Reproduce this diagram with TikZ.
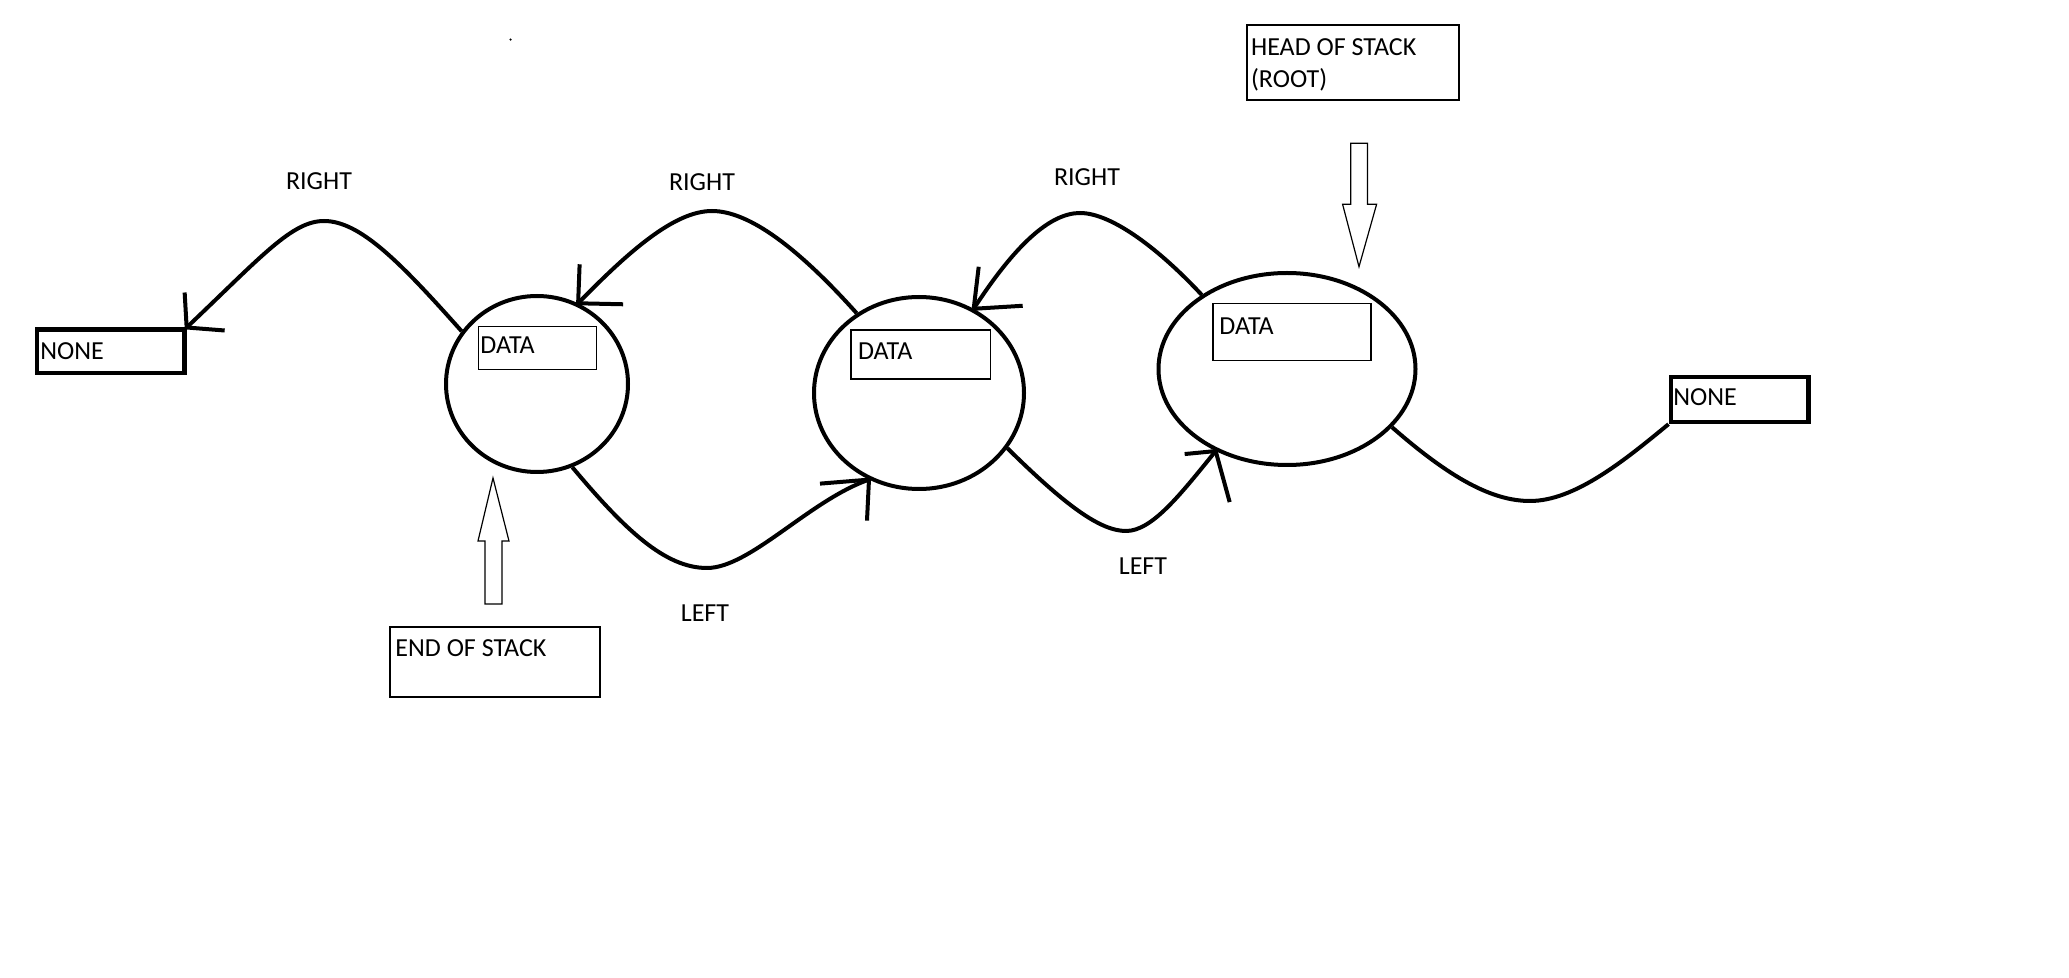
\documentclass[tikz,border=0pt]{standalone}
\usepackage{fontspec}
\setmainfont{Carlito}
\usetikzlibrary{shapes.geometric}
\begin{document}
\begin{tikzpicture}[x=0.5pt,y=-0.5pt,
  every node/.style={font=\fontsize{13pt}{16pt}\selectfont},
  bubble/.style={draw, ellipse, line width=2pt, inner sep=0pt},
  databox/.style={draw, rectangle, line width=0.6pt, inner sep=0pt},
  nonebox/.style={draw, rectangle, line width=2.2pt, inner sep=0pt},
  txt/.style={inner sep=0pt, anchor=base west},
  lbl/.style={inner sep=0pt},
  link/.style={line width=2pt, line join=round},
  head/.style={line width=2pt},
  blockarrow/.style={draw, line width=0.6pt, fill=white},
  note/.style={draw, rectangle, line width=0.6pt, inner sep=0pt}
]
\useasboundingbox[fill=white] (0,0) rectangle (2069,978);

% bubbles
\node[bubble, minimum width=91pt, minimum height=88pt] (c1) at (537,384) {};
\node[bubble, minimum width=105pt, minimum height=96pt] (c2) at (919,393) {};
\node[bubble, minimum width=128.5pt, minimum height=96pt] (c3) at (1287,369) {};

% data boxes
\node[databox, minimum width=59pt, minimum height=21.5pt] (d1) at (537.5,347.8) {};
\node[txt] (d1t) at (480,354) {DATA};
\node[databox, minimum width=69.8pt, minimum height=24.5pt] (d2) at (920.8,354.5) {};
\node[txt] (d2t) at (857.6,359.3) {DATA};
\node[databox, minimum width=79pt, minimum height=28.4pt] (d3) at (1292,332.3) {};
\node[txt] (d3t) at (1219,335) {DATA};

% none boxes
\node[nonebox, minimum width=73.75pt, minimum height=21.6pt] (n1) at (110.7,351.3) {};
\node[txt] (n1t) at (40,360) {NONE};
\node[nonebox, minimum width=68.8pt, minimum height=22.5pt] (n2) at (1739.5,399.5) {};
\node[txt] (n2t) at (1673,406) {NONE};

% notes
\node[note, minimum width=105pt, minimum height=35pt] (endbox) at (495,662) {};
\node[txt] (endt) at (395,657) {END OF STACK};
\node[note, minimum width=106pt, minimum height=37.5pt] (headbox) at (1353,62.5) {};
\node[txt] (h1) at (1250.7,56) {HEAD OF STACK};
\node[txt] (h2) at (1250.7,88) {(ROOT)};

% labels
\node[lbl] (r1) at (319,181) {RIGHT};
\node[lbl] (r2) at (702,182) {RIGHT};
\node[lbl] (r3) at (1087,177) {RIGHT};
\node[lbl] (l1) at (705,613) {LEFT};
\node[lbl] (l2) at (1143,566) {LEFT};

% block arrows
\draw[blockarrow] (485,604) -- (485,541) -- (478,541) -- (493,478) -- (509,541) -- (502,541) -- (502,604) -- cycle;
\draw[blockarrow] (1350.7,143.3) -- (1350.7,204.3) -- (1342.6,204.3) -- (1359,266.7) -- (1376.6,204.3) -- (1367.5,204.3) -- (1367.5,143.3) -- cycle;

% RIGHT links
\draw[link] (c1.145) .. controls (400,262) and (360,221) .. (324,221) .. controls (292,221) and (262,256) .. (n1.north east);
\draw[head] (n1.north east) -- ++(-2,-35);
\draw[head] (n1.north east) -- ++(38,3);

\draw[link] (c2.128) .. controls (800,250) and (750,211) .. (712,211) .. controls (675,211) and (630,250) .. (c1.63);
\draw[head] (c1.63) -- ++(1.5,-39);
\draw[head] (c1.63) -- ++(45,1);

\draw[link] (c3.139) .. controls (1160,250) and (1112,213) .. (1080,213) .. controls (1050,213) and (1015,245) .. (c2.57);
\draw[head] (c2.57) -- ++(5,-42);
\draw[head] (c2.57) -- ++(49,-3);

% LEFT links
\draw[link] (c1.293) .. controls (625,530) and (665,568) .. (707,568) .. controls (750,568) and (810,500) .. (c2.240);
\draw[head] (c2.240) -- ++(-49,4);
\draw[head] (c2.240) -- ++(-2,41);

\draw[link] (c2.328) .. controls (1065,505) and (1100,531) .. (1126,531) .. controls (1152,531) and (1180,495) .. (c3.229);
\draw[head] (c3.229) -- ++(-31,3);
\draw[head] (c3.229) -- ++(14,51);

\draw[link] (c3.331) .. controls (1450,478) and (1492,501) .. (1530,501) .. controls (1575,501) and (1625,460) .. (n2.south west);

% speck
\fill (510.6,39.6) circle (1.2);
\end{tikzpicture}
\end{document}
